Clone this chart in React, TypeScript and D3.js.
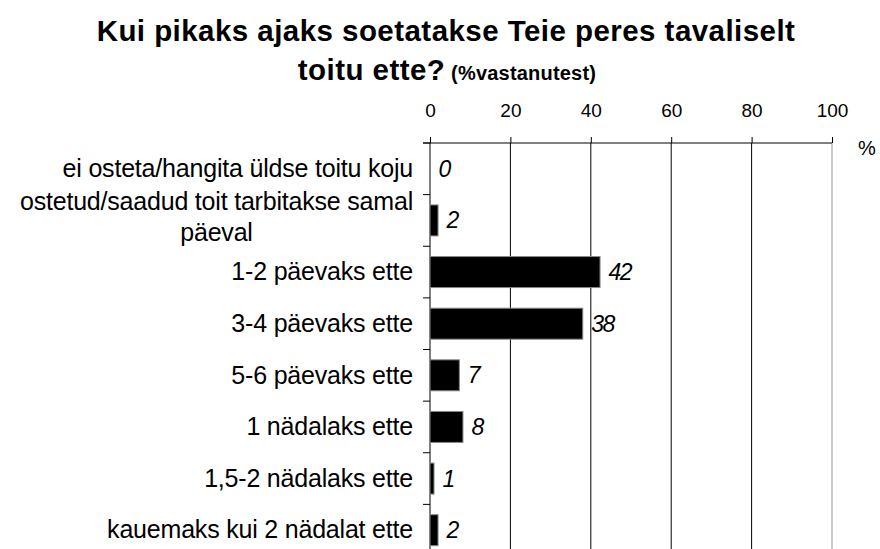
import React, { useEffect, useRef } from "react";
import * as d3 from "d3";

const categories: string[][] = [
  ["ei osteta/hangita üldse toitu koju"],
  ["ostetud/saadud toit tarbitakse samal", "päeval"],
  ["1-2 päevaks ette"],
  ["3-4 päevaks ette"],
  ["5-6 päevaks ette"],
  ["1 nädalaks ette"],
  ["1,5-2 nädalaks ette"],
  ["kauemaks kui 2 nädalat ette"],
];
const values: number[] = [0, 2, 42.3, 38, 7.3, 8.2, 1, 2];
const valueLabels: string[] = ["0", "2", "42", "38", "7", "8", "1", "2"];
const ticks: number[] = [0, 20, 40, 60, 80, 100];
const titleLine1 = "Kui pikaks ajaks soetatakse Teie peres tavaliselt";
const titleLine2a = "toitu ette?";
const titleLine2b = " (%vastanutest)";

const W = 880;
const H = 549;
const FONT = "'Liberation Sans', Arial, sans-serif";

export default function App() {
  const ref = useRef<SVGSVGElement | null>(null);

  useEffect(() => {
    document.body.style.margin = "0";
    const svg = d3.select(ref.current);
    svg.selectAll("*").remove();

    const x = d3.scaleLinear().domain([0, 100]).range([430, 832]);
    const idx = categories.map((_, i) => String(i));
    const y = d3
      .scaleBand<string>()
      .domain(idx)
      .range([143, 556])
      .paddingInner(0.4)
      .paddingOuter(0.2);
    const step = y.step();
    const top = 143;
    const bottom = 556;

    // title
    svg
      .append("text")
      .attr("x", 446)
      .attr("y", 41)
      .attr("text-anchor", "middle")
      .attr("font-family", FONT)
      .attr("font-weight", "bold")
      .attr("font-size", 29.5)
      .attr("letter-spacing", 0.45)
      .text(titleLine1);
    const t2 = svg
      .append("text")
      .attr("x", 447)
      .attr("y", 80)
      .attr("text-anchor", "middle")
      .attr("font-family", FONT)
      .attr("font-weight", "bold");
    t2.append("tspan").attr("font-size", 29.5).attr("letter-spacing", 0.45).text(titleLine2a);
    t2.append("tspan").attr("font-size", 20).attr("letter-spacing", 0.2).text(titleLine2b);

    // gridlines
    const g = svg.append("g");
    ticks.forEach((v) => {
      if (v === 0) return;
      g.append("line")
        .attr("x1", x(v))
        .attr("x2", x(v))
        .attr("y1", top)
        .attr("y2", bottom)
        .attr("stroke", v === 100 ? "#999" : "#000")
        .attr("stroke-width", 1);
    });

    // top axis
    const axis = d3
      .axisTop(x)
      .tickValues(ticks)
      .tickSize(6)
      .tickPadding(20)
      .tickSizeOuter(0)
      .tickFormat((d) => String(d));
    const ag = svg.append("g").attr("transform", `translate(0,${top})`).call(axis);
    ag.select(".domain").remove();
    ag.selectAll("line").attr("stroke", "#000");
    ag.selectAll("text")
      .attr("font-family", FONT)
      .attr("font-size", 19)
      .attr("fill", "#000");
    svg
      .append("line")
      .attr("x1", 423)
      .attr("x2", x(100))
      .attr("y1", top)
      .attr("y2", top)
      .attr("stroke", "#000");
    svg
      .append("text")
      .attr("x", 867)
      .attr("y", 155)
      .attr("text-anchor", "middle")
      .attr("font-family", FONT)
      .attr("font-size", 20)
      .text("%");

    // left axis
    svg
      .append("line")
      .attr("x1", x(0))
      .attr("x2", x(0))
      .attr("y1", top)
      .attr("y2", bottom)
      .attr("stroke", "#000");
    for (let i = 0; i <= categories.length; i++) {
      const yy = top + i * step;
      svg
        .append("line")
        .attr("x1", 423)
        .attr("x2", x(0))
        .attr("y1", yy)
        .attr("y2", yy)
        .attr("stroke", "#000");
    }

    // bars
    svg
      .append("g")
      .selectAll("rect")
      .data(values)
      .join("rect")
      .attr("x", x(0))
      .attr("y", (_, i) => y(String(i))!)
      .attr("width", (d) => Math.max(0, x(d) - x(0)))
      .attr("height", y.bandwidth())
      .attr("fill", "#000")
      .attr("stroke", (d) => (d > 0 ? "#888" : "none"))
      .attr("stroke-width", 1);

    // value labels
    svg
      .append("g")
      .selectAll("text")
      .data(values)
      .join("text")
      .attr("x", (d) => x(d) + 8.5)
      .attr("y", (_, i) => y(String(i))! + y.bandwidth() / 2 + 8)
      .attr("font-family", FONT)
      .attr("font-style", "italic")
      .attr("font-size", 23)
      .attr("letter-spacing", -1.5)
      .text((_, i) => valueLabels[i]);

    // category labels
    const lx = 413;
    categories.forEach((lines, i) => {
      const cy = top + (i + 0.5) * step;
      const lh = 31;
      const startY =
        lines.length > 1 ? cy - ((lines.length - 1) * lh) / 2 + 5 : cy + 8.3;
      const first = svg
        .append("text")
        .attr("x", lx)
        .attr("y", startY)
        .attr("text-anchor", "end")
        .attr("font-family", FONT)
        .attr("font-size", 25)
        .attr("letter-spacing", -0.2)
        .text(lines[0]);
      if (lines.length > 1) {
        const w = (first.node() as SVGTextElement).getComputedTextLength();
        for (let k = 1; k < lines.length; k++) {
          svg
            .append("text")
            .attr("x", lx - w / 2)
            .attr("y", startY + k * lh)
            .attr("text-anchor", "middle")
            .attr("font-family", FONT)
            .attr("font-size", 25)
            .attr("letter-spacing", -0.2)
            .text(lines[k]);
        }
      }
    });
  }, []);

  return (
    <svg
      ref={ref}
      width={W}
      height={H}
      style={{ display: "block", background: "#fff" }}
    />
  );
}
